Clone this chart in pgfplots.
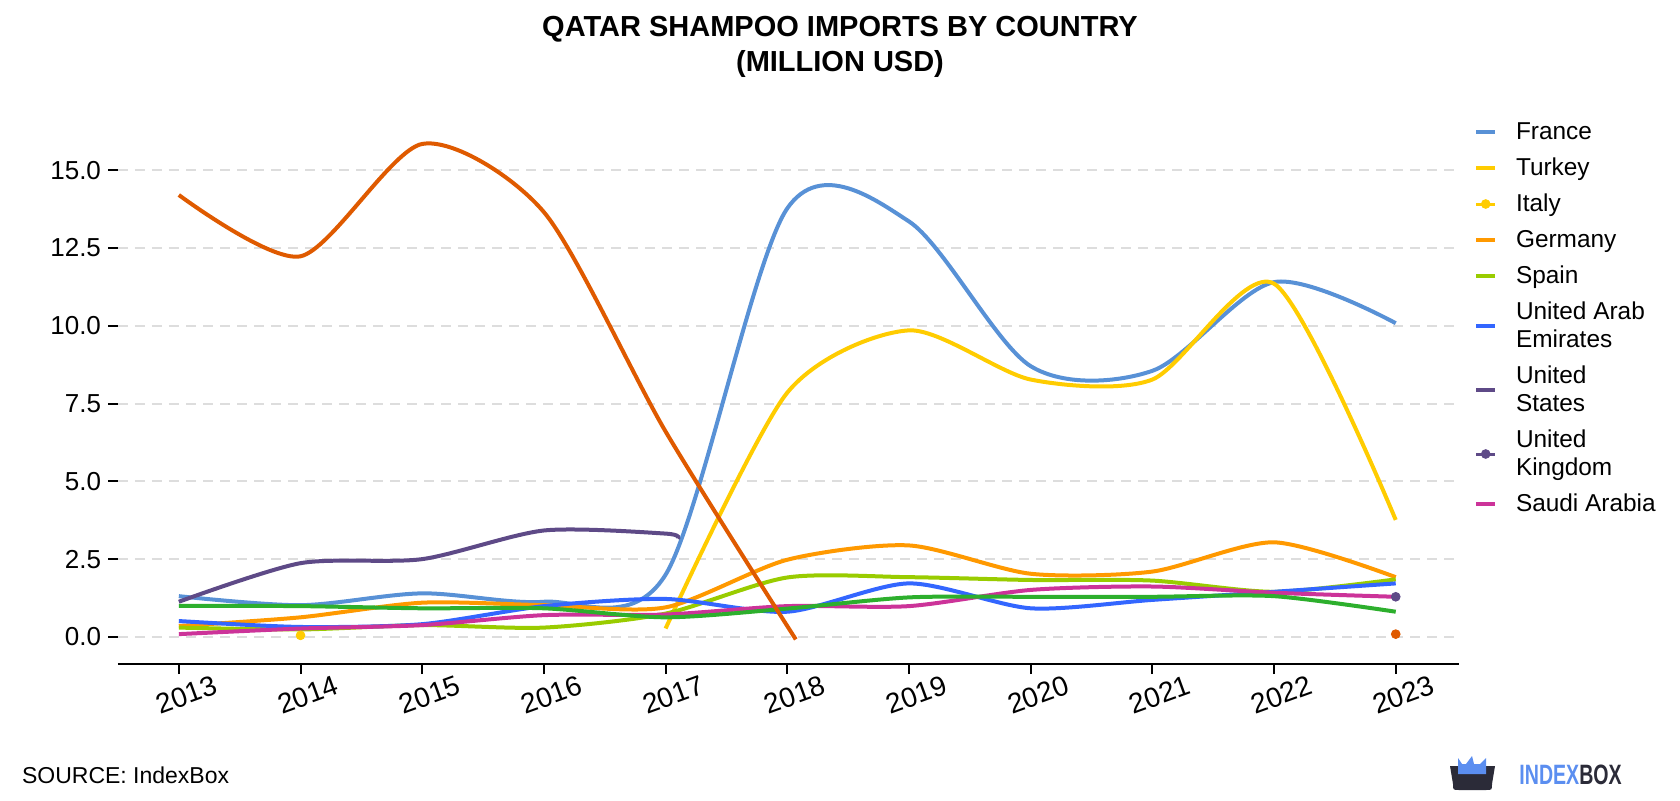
\documentclass[border=0pt]{standalone}
\usepackage{fontspec}
\setmainfont{Liberation Sans}
\usepackage{pgfplots}
\pgfplotsset{compat=1.18}
\definecolor{cFrance}{HTML}{5891D6}
\definecolor{cTurkey}{HTML}{FFCC00}
\definecolor{cGermany}{HTML}{FF9900}
\definecolor{cSpain}{HTML}{99CC00}
\definecolor{cUAE}{HTML}{3366FF}
\definecolor{cUS}{HTML}{5E4A87}
\definecolor{cSaudi}{HTML}{CC3399}
\definecolor{cGreen}{HTML}{2DAF2D}
\definecolor{cDark}{HTML}{DF5A00}
\definecolor{cGrid}{HTML}{DDDDDD}
\definecolor{cLogo}{HTML}{2B2B38}
\definecolor{cLogoBlue}{HTML}{5B8EF0}
\pgfplotsset{
  ser/.style={smooth, tension=0.45, line width=2pt, mark=none},
  lineleg/.style={legend image code/.code={\draw[##1, line width=1.8pt] (0pt,0pt) -- (9.5pt,0pt);}},
  markleg/.style={legend image code/.code={\draw[##1, line width=1.5pt] (0pt,0pt) -- (9.5pt,0pt); \fill[##1] (4.75pt,0pt) circle (2.2pt);}},
}
\newcommand{\fs}{\rule{0pt}{10.5pt}}
\begin{document}
\begin{tikzpicture}
\path[use as bounding box] (0,0) rectangle (840pt,400pt);
\node[font=\bfseries\fontsize{14.5}{17.5}\selectfont, align=center] at (420pt,376.5pt) {QATAR SHAMPOO IMPORTS BY COUNTRY\\(MILLION USD)};
\begin{axis}[
  at={(59pt,68pt)}, anchor=south west, scale only axis,
  width=670.5pt, height=270.3pt,
  xmin=2012.5, xmax=2023.52, ymin=-0.87, ymax=16.5,
  axis x line=bottom, axis y line=left,
  axis line style={-},
  x axis line style={line width=1pt},
  y axis line style={draw=none},
  xtick={2013,2014,2015,2016,2017,2018,2019,2020,2021,2022,2023},
  xticklabels={2013,2014,2015,2016,2017,2018,2019,2020,2021,2022,2023},
  ytick={0,2.5,5,7.5,10,12.5,15},
  yticklabel style={/pgf/number format/.cd, fixed, fixed zerofill, precision=1, assume math mode=true},
  tick style={black, line width=1pt},
  major tick length=5pt,
  tick align=outside,
  ymajorgrids,
  grid style={draw=cGrid, line width=1pt, dash pattern=on 5pt off 3.5pt},
  tick label style={font=\fontsize{13}{13}\selectfont},
  xticklabel style={font=\fontsize{14}{14}\selectfont, rotate=20, anchor=center, yshift=-11pt, inner sep=0pt},
  legend style={at={(1,1)}, anchor=north west, xshift=7.5pt, yshift=2.9pt,
    draw=none, fill=none, inner sep=0pt, row sep=4pt,
    font=\fontsize{12.2}{14}\selectfont,
    nodes={inner sep=0pt, text depth=3.5pt},
    cells={anchor=west, align=left},
    /tikz/every odd column/.append style={column sep=9.5pt}},
]
\addplot[ser, tension=0.5, cFrance, lineleg] coordinates {(2013,1.31)(2014,1.02)(2015,1.40)(2016,1.13)(2017,2.0)(2018,13.77)(2019,13.35)(2020,8.70)(2021,8.55)(2022,11.4)(2023,10.08)};
\addlegendentry{\fs France}
\addplot[ser, tension=0.45, cTurkey, lineleg] coordinates {(2017,0.27)(2018,7.85)(2019,9.85)(2020,8.27)(2021,8.27)(2022,11.35)(2023,3.76)};
\addlegendentry{\fs Turkey}
\addplot[cTurkey, only marks, mark=*, mark size=2.2pt, markleg] coordinates {(2014,0.05)};
\addlegendentry{\fs Italy}
\addplot[ser, cGermany, lineleg] coordinates {(2013,0.35)(2014,0.63)(2015,1.1)(2016,1.02)(2017,0.95)(2018,2.48)(2019,2.94)(2020,2.03)(2021,2.1)(2022,3.04)(2023,1.92)};
\addlegendentry{\fs Germany}
\addplot[ser, cSpain, lineleg] coordinates {(2013,0.30)(2014,0.24)(2015,0.38)(2016,0.30)(2017,0.75)(2018,1.91)(2019,1.92)(2020,1.83)(2021,1.81)(2022,1.45)(2023,1.85)};
\addlegendentry{\fs Spain}
\addplot[ser, cUAE, lineleg] coordinates {(2013,0.51)(2014,0.32)(2015,0.41)(2016,0.99)(2017,1.22)(2018,0.81)(2019,1.72)(2020,0.92)(2021,1.19)(2022,1.45)(2023,1.72)};
\addlegendentry{\fs United Arab\\Emirates}
\addplot[ser, cUS, lineleg] coordinates {(2013,1.13)(2014,2.37)(2015,2.5)(2016,3.42)(2017,3.32)(2017.1,3.16)};
\addlegendentry{\fs United\\States}
\addplot[cUS, only marks, mark=*, mark size=2.2pt, markleg] coordinates {(2023,1.29)};
\addlegendentry{\fs United\\Kingdom}
\addplot[ser, cSaudi, lineleg] coordinates {(2013,0.09)(2014,0.27)(2015,0.38)(2016,0.70)(2017,0.72)(2018,0.99)(2019,0.99)(2020,1.51)(2021,1.62)(2022,1.42)(2023,1.29)};
\addlegendentry{\fs Saudi Arabia}
\addplot[ser, cGreen, forget plot] coordinates {(2013,1.0)(2014,0.99)(2015,0.92)(2016,0.92)(2017,0.63)(2018,0.91)(2019,1.27)(2020,1.29)(2021,1.29)(2022,1.31)(2023,0.81)};
\addplot[ser, cDark, forget plot] coordinates {(2013,14.2)(2014,12.23)(2015,15.84)(2016,13.65)(2017,6.6)(2018.07,-0.08)};
\addplot[cDark, only marks, mark=*, mark size=2.2pt, forget plot] coordinates {(2023,0.09)};
\end{axis}
\node[anchor=west, font=\fontsize{11.5}{11.5}\selectfont] at (7.5pt,12.5pt) {SOURCE: IndexBox};
% logo
\fill[cLogo] (725pt,17pt) -- (747.5pt,17pt) -- (746pt,8pt) .. controls (746pt,5pt) .. (743pt,5pt) -- (729.5pt,5pt) .. controls (726.5pt,5pt) .. (726.5pt,8pt) -- cycle;
\fill[cLogoBlue] (729pt,13pt) -- (729pt,21pt) -- (731pt,18pt) -- (733pt,18pt) -- (736pt,22pt) -- (737pt,18pt) -- (740pt,18pt) -- (743pt,21pt) -- (743pt,13pt) -- cycle;
\node[anchor=west, inner sep=0pt] at (759.5pt,12.5pt) {\scalebox{0.7}[1]{\bfseries\fontsize{14}{14}\selectfont\textcolor{cLogoBlue}{INDEX}\textcolor{cLogo}{BOX}}};
\end{tikzpicture}
\end{document}
